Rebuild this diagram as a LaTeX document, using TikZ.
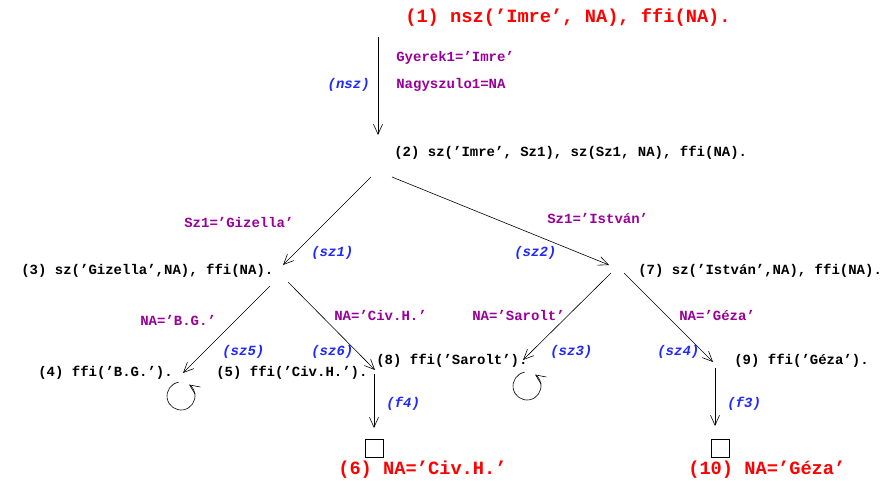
\documentclass[tikz,border=0pt]{standalone}
\usepackage{fontspec}
\setmonofont{Liberation Mono}
\usetikzlibrary{arrows.meta}
\definecolor{substcol}{RGB}{153,0,153}
\definecolor{rulecol}{RGB}{30,40,255}
\newcommand{\gsz}{\fontsize{14}{16}\selectfont\ttfamily\bfseries\frenchspacing}
\newcommand{\gbig}{\fontsize{18.7}{22}\selectfont\ttfamily\bfseries\frenchspacing}

\begin{document}
\begin{tikzpicture}[x=1pt,y=-1pt,line width=0.6pt,
   >={Straight Barb[length=10pt,width=9pt]},
   goal/.style={anchor=west,inner sep=0pt,font=\gsz},
   final/.style={anchor=west,inner sep=0pt,font=\gbig,text=red},
   subst/.style={anchor=west,inner sep=0pt,font=\gsz,text=substcol},
   rule/.style={anchor=west,inner sep=0pt,font=\gsz\itshape,text=rulecol},
   empty/.style={draw,minimum size=18pt,inner sep=0pt}]
   \useasboundingbox (0,0) rectangle (883,480);
   % goals
   \node[final] (g1) at (405, 18) {(1) nsz(’Imre’, NA), ffi(NA).};
   \node[goal]  (g2) at (394,153) {(2) sz(’Imre’, Sz1), sz(Sz1, NA), ffi(NA).};
   \node[goal]  (g3) at ( 21,271) {(3) sz(’Gizella’,NA), ffi(NA).};
   \node[goal]  (g7) at (638,271) {(7) sz(’István’,NA), ffi(NA).};
   \node[goal]  (g4) at ( 38,373) {(4) ffi(’B.G.’).};
   \node[goal]  (g5) at (216,373) {(5) ffi(’Civ.H.’).};
   \node[goal]  (g8) at (376,361) {(8) ffi(’Sarolt’).};
   \node[goal]  (g9) at (734,361) {(9) ffi(’Géza’).};
   \node[empty] (e6)  at (374,448) {};
   \node[empty] (e10) at (720,448) {};
   \node[final] (g6)  at (338,470) {(6) NA=’Civ.H.’};
   \node[final] (g10) at (688,470) {(10) NA=’Géza’};
   % substitutions
   \node[subst] (s1a) at (396, 58) {Gyerek1=’Imre’};
   \node[subst] (s1b) at (396, 85) {Nagyszulo1=NA};
   \node[subst] (s2a) at (184,222) {Sz1=’Gizella’};
   \node[subst] (s2b) at (547,218) {Sz1=’István’};
   \node[subst] (s3a) at (140,320) {NA=’B.G.’};
   \node[subst] (s3b) at (334,315) {NA=’Civ.H.’};
   \node[subst] (s7a) at (472,315) {NA=’Sarolt’};
   \node[subst] (s7b) at (679,315) {NA=’Géza’};
   % rules
   \node[rule,anchor=east] (r1) at (370, 85) {(nsz)};
   \node[rule] (r2a) at (311,253) {(sz1)};
   \node[rule] (r2b) at (514,253) {(sz2)};
   \node[rule] (r3a) at (222,352) {(sz5)};
   \node[rule] (r3b) at (311,352) {(sz6)};
   \node[rule] (r7a) at (550,352) {(sz3)};
   \node[rule] (r7b) at (657,352) {(sz4)};
   \node[rule] (r8)  at (386,404) {(f4)};
   \node[rule] (r9)  at (727,404) {(f3)};
   % branch ends
   \coordinate (p1)  at (378, 37); \coordinate (q1)  at (378,135);
   \coordinate (p2l) at (371,177); \coordinate (q2l) at (283,265);
   \coordinate (p2r) at (392,177); \coordinate (q2r) at (609,265);
   \coordinate (p3l) at (270,286); \coordinate (q3l) at (183,373);
   \coordinate (p3r) at (288,282); \coordinate (q3r) at (375,370);
   \coordinate (p7l) at (611,273); \coordinate (q7l) at (523,360);
   \coordinate (p7r) at (624,273); \coordinate (q7r) at (713,362);
   \coordinate (p8)  at (374,374); \coordinate (q8)  at (374,428);
   \coordinate (p9)  at (715,368); \coordinate (q9)  at (715,426);
   \coordinate (c4)  at (181,396); \coordinate (c8)  at (527,386);
   \draw[->] (p1)  -- (q1);
   \draw[->] (p2l) -- (q2l);
   \draw[->] (p2r) -- (q2r);
   \draw[->] (p3l) -- (q3l);
   \draw[->] (p3r) -- (q3r);
   \draw[->] (p7l) -- (q7l);
   \draw[->] (p7r) -- (q7r);
   \draw[->] (p8)  -- (q8);
   \draw[->] (p9)  -- (q9);
   % loops of failed goals (y runs downwards)
   \draw[->] (c4) ++(-100:14) arc[start angle=-100,end angle=-415,radius=14];
   \draw[->] (c8) ++(-100:14) arc[start angle=-100,end angle=-415,radius=14];
\end{tikzpicture}
\end{document}
